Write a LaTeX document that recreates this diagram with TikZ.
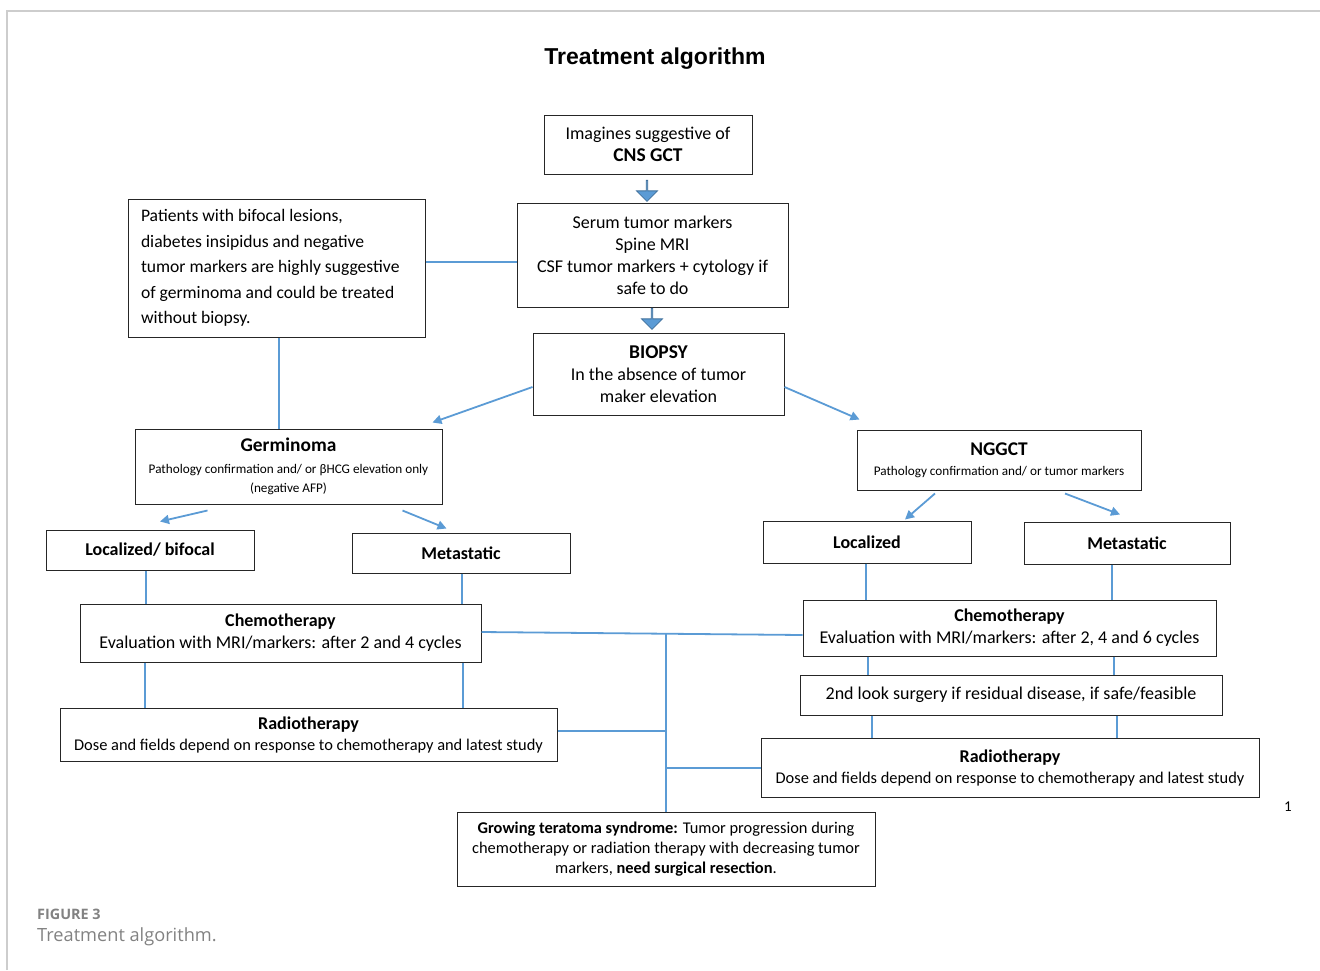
\documentclass[tikz,border=0pt]{standalone}
\usepackage{fontspec}
\setmainfont{Carlito}
\newfontfamily\arialfont{Liberation Sans}
\newfontfamily\legendafont{Open Sans}
\usetikzlibrary{arrows.meta,shapes.arrows,calc}
\definecolor{azulLinha}{RGB}{91,155,213}
\definecolor{azulBorda}{RGB}{65,113,156}
\definecolor{cinzaMoldura}{RGB}{205,205,205}
\definecolor{cinzaLegenda}{RGB}{130,130,130}
\tikzset{
  caixa/.style={rectangle, draw=black!85, line width=1pt, fill=white,
                align=center, inner sep=0pt, font=\fontsize{18}{22}\selectfont},
  seta/.style={-{Triangle[length=9pt,width=9pt]}, line width=1.8pt, azulLinha},
  linha/.style={line width=1.8pt, azulLinha},
  setagrossa/.style={single arrow, draw=azulBorda, fill=azulLinha, line width=0.8pt,
                     minimum height=21pt, minimum width=21pt, single arrow head extend=5.5pt,
                     inner sep=0pt, rotate=-90},
}

\begin{document}
\begin{tikzpicture}[x=1pt, y=-1pt]
  \useasboundingbox (0,0) rectangle (1320,970);
  \draw[cinzaMoldura, line width=1.5pt] (7,970) -- (7,11) -- (1320,11);

  \node[font=\arialfont\bfseries\fontsize{23}{26}\selectfont] (titulo) at (655,59) {Treatment algorithm};

  % coluna central
  \node[caixa, minimum width=208, minimum height=59] (imag) at (648,144.5)
       {Imagines suggestive of\\{\fontsize{19.5}{24}\selectfont\bfseries CNS GCT}};
  \node[setagrossa] (s1) at (647,190.5) {};
  \node[caixa, minimum width=271, minimum height=104] (serum) at (652.5,255)
       {Serum tumor markers\\Spine MRI\\CSF tumor markers + cytology if\\safe to do};
  \node[setagrossa] (s2) at (652,318.5) {};
  \node[caixa, minimum width=251, minimum height=82] (biopsia) at (658.5,374)
       {{\fontsize{19.5}{23}\selectfont\bfseries BIOPSY}\\In the absence of tumor\\maker elevation};
  \node[caixa, minimum width=297, minimum height=138, align=flush left, text width=271,
        inner xsep=13, font=\fontsize{17.6}{25.5}\selectfont] (pacientes) at (276.5,268)
       {Patients with bifocal lesions,\\diabetes insipidus and negative\\tumor markers are highly suggestive\\of germinoma and could be treated\\without biopsy.};

  % germinoma
  \node[caixa, minimum width=307, minimum height=75] (germ) at (288.5,466.5)
       {{\fontsize{19.4}{22}\selectfont\bfseries Germinoma}\\[0pt]
        {\fontsize{13.2}{19}\selectfont Pathology confirmation and/ or βHCG elevation only}\\[-3pt]
        {\fontsize{13.2}{19}\selectfont (negative AFP)}};
  \node[caixa, minimum width=208, minimum height=40, font=\fontsize{18}{22}\selectfont\bfseries] (locL) at (150,550) {Localized/ bifocal};
  \node[caixa, minimum width=218, minimum height=40, font=\fontsize{18}{22}\selectfont\bfseries] (metL) at (461,553) {Metastatic};
  \node[caixa, minimum width=401, minimum height=58] (quimioL) at (280.5,633)
       {\textbf{Chemotherapy}\\Evaluation with MRI/markers: after 2 and 4 cycles};
  \node[caixa, minimum width=497, minimum height=53, font=\fontsize{16.4}{21}\selectfont] (radioL) at (308.5,734.5)
       {{\fontsize{18}{21}\selectfont\bfseries Radiotherapy}\\Dose and fields depend on response to chemotherapy and latest study};

  % NGGCT
  \node[caixa, minimum width=284, minimum height=60] (nggct) at (999,460)
       {{\fontsize{19.4}{22}\selectfont\bfseries NGGCT}\\[-2pt]
        {\fontsize{13.2}{19}\selectfont Pathology confirmation and/ or tumor markers}};
  \node[caixa, minimum width=208, minimum height=42, font=\fontsize{18}{22}\selectfont\bfseries] (locR) at (867,542) {Localized};
  \node[caixa, minimum width=206, minimum height=42, font=\fontsize{18}{22}\selectfont\bfseries] (metR) at (1127,543) {Metastatic};
  \node[caixa, minimum width=413, minimum height=56] (quimioR) at (1009.5,628)
       {\textbf{Chemotherapy}\\Evaluation with MRI/markers: after 2, 4 and 6 cycles};
  \node[caixa, minimum width=422, minimum height=40] (cirurgia) at (1011,695)
       {2nd look surgery if residual disease, if safe/feasible};
  \node[caixa, minimum width=498, minimum height=59, font=\fontsize{16.4}{21}\selectfont] (radioR) at (1010,767.5)
       {{\fontsize{18}{21}\selectfont\bfseries Radiotherapy}\\Dose and fields depend on response to chemotherapy and latest study};

  \node[caixa, minimum width=418, minimum height=74, font=\fontsize{16.4}{20}\selectfont] (gts) at (666,849)
       {\textbf{Growing teratoma syndrome:} Tumor progression during\\chemotherapy or radiation therapy with decreasing tumor\\markers, \textbf{need surgical resection}.};

  \node[font=\fontsize{15}{16}\selectfont] (pagina) at (1288,807) {1};

  % legenda
  \node[anchor=west, inner sep=0pt, text=cinzaLegenda, font=\legendafont\bfseries\fontsize{14.4}{16}\selectfont] (figura) at (37,914) {FIGURE 3};
  \node[anchor=west, inner sep=0pt, text=cinzaLegenda, font=\legendafont\fontsize{18.2}{20}\selectfont] (legenda) at (37,937) {Treatment algorithm.};

  % ligacoes
  \draw[linha] (pacientes.east |- 0,262) -- (serum.west |- 0,262);
  \draw[linha] (pacientes.south -| 279,0) -- (germ.north -| 279,0);
  \draw[seta] (biopsia.west |- 0,387) -- ($(germ.north east)+(-10,-6)$);
  \draw[seta] (biopsia.east |- 0,387) -- ($(nggct.north west)+(3,-10)$);
  \draw[seta] ($(germ.south west)+(73,6)$) -- ($(locL.north)+(10,-8)$);
  \draw[seta] ($(germ.south east)+(-40,6)$) -- ($(metL.north west)+(95,-4)$);
  \draw[seta] ($(nggct.south)+(-64,3)$) -- ($(locR.north)+(38,-1)$);
  \draw[seta] ($(nggct.south)+(66,3)$) -- ($(metR.north)+(-7,-7)$);

  \draw[linha] (locL.south -| 146,0) -- (quimioL.north -| 146,0);
  \draw[linha] (metL.south -| 462,0) -- (quimioL.north -| 462,0);
  \draw[linha] (quimioL.south -| 145,0) -- (radioL.north -| 145,0);
  \draw[linha] (quimioL.south -| 463,0) -- (radioL.north -| 463,0);
  \draw[linha] (locR.south -| 866,0) -- (quimioR.north -| 866,0);
  \draw[linha] (metR.south -| 1112,0) -- (quimioR.north -| 1112,0);
  \draw[linha] (quimioR.south -| 868,0) -- (cirurgia.north -| 868,0);
  \draw[linha] (quimioR.south -| 1114,0) -- (cirurgia.north -| 1114,0);
  \draw[linha] (cirurgia.south -| 872,0) -- (radioR.north -| 872,0);
  \draw[linha] (cirurgia.south -| 1117,0) -- (radioR.north -| 1117,0);

  \coordinate (tronco) at (666,634);
  \draw[linha] (quimioL.east |- 0,632) -- (quimioR.west |- 0,635);
  \draw[linha] (tronco) -- (gts.north);
  \draw[linha] (radioL.east |- 0,731) -- (tronco |- 0,731);
  \draw[linha] (tronco |- 0,768) -- (radioR.west |- 0,768);
\end{tikzpicture}
\end{document}
